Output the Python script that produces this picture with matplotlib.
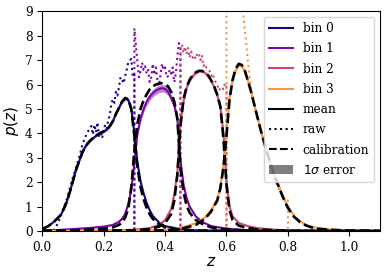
import matplotlib
matplotlib.use("Agg")
import matplotlib.pyplot as plt
from matplotlib.lines import Line2D
from matplotlib.patches import Patch
import numpy as np

plt.rcParams['font.family'] = ['DejaVu Serif']
plt.rcParams['mathtext.fontset'] = 'dejavusans'

# ---------------- data ----------------
bin_labels = ["bin 0", "bin 1", "bin 2", "bin 3"]
cmap_pos = [0.0, 0.25, 0.5, 0.75]

# bin 0
z0 = [0.0, 0.02, 0.04, 0.06,
      0.07, 0.08, 0.09, 0.10, 0.11, 0.12, 0.13, 0.14, 0.15, 0.16, 0.17, 0.18, 0.19, 0.20, 0.21, 0.22,
      0.23, 0.24, 0.25, 0.26, 0.27, 0.28, 0.29, 0.30, 0.31, 0.32, 0.33, 0.34, 0.35, 0.36,
      0.38, 0.40, 0.45, 0.50, 0.60, 0.80, 1.10]
mean0 = [0.08, 0.2, 0.4, 0.65,
         0.9, 1.2, 1.6, 2.05, 2.5, 2.85, 3.2, 3.45, 3.62, 3.75, 3.85, 3.95, 4.02, 4.08, 4.15, 4.3,
         4.5, 4.8, 5.05, 5.3, 5.42, 5.38, 5.0, 4.0, 2.8, 2.05, 1.55, 1.15, 0.85, 0.62,
         0.35, 0.2, 0.08, 0.03, 0.01, 0.0, 0.0]
cal0 = [0.08, 0.2, 0.4, 0.65,
        0.9, 1.2, 1.6, 2.05, 2.5, 2.85, 3.2, 3.45, 3.62, 3.75, 3.85, 3.95, 4.02, 4.08, 4.15, 4.3,
        4.5, 4.8, 5.05, 5.3, 5.45, 5.4, 5.0, 3.9, 2.6, 1.8, 1.3, 0.95, 0.68, 0.5,
        0.28, 0.15, 0.05, 0.02, 0.0, 0.0, 0.0]
err0 = [0.01, 0.01, 0.02, 0.02,
        0.03, 0.03, 0.04, 0.04, 0.05, 0.05, 0.05, 0.05, 0.05, 0.05, 0.05, 0.05, 0.05, 0.05, 0.05, 0.05,
        0.06, 0.06, 0.06, 0.06, 0.06, 0.06, 0.06, 0.06, 0.05, 0.04, 0.03, 0.03, 0.02, 0.02,
        0.01, 0.01, 0.0, 0.0, 0.0, 0.0, 0.0]

# bin 1
z1 = [0.0, 0.05, 0.10, 0.15, 0.20, 0.23, 0.25,
      0.26, 0.27, 0.28, 0.29, 0.30, 0.31, 0.32, 0.33, 0.34, 0.35, 0.36, 0.37, 0.38, 0.39, 0.40,
      0.41, 0.42, 0.43, 0.44, 0.45, 0.46, 0.47, 0.48,
      0.50, 0.52, 0.55, 0.60, 0.65, 0.70, 0.80, 1.10]
mean1 = [0.02, 0.04, 0.08, 0.12, 0.18, 0.25, 0.38,
         0.5, 0.7, 1.1, 1.7, 2.8, 4.0, 4.6, 5.0, 5.3, 5.5, 5.65, 5.75, 5.82, 5.85, 5.82,
         5.7, 5.45, 5.15, 4.6, 2.9, 1.9, 1.35, 1.0,
         0.6, 0.38, 0.2, 0.1, 0.05, 0.02, 0.01, 0.0]
cal1 = [0.0, 0.01, 0.03, 0.06, 0.1, 0.15, 0.25,
        0.35, 0.55, 0.9, 1.8, 3.3, 4.4, 5.0, 5.35, 5.6, 5.8, 5.92, 6.0, 6.04, 6.05, 6.02,
        5.92, 5.7, 5.3, 4.6, 2.6, 1.6, 1.05, 0.75,
        0.45, 0.3, 0.15, 0.06, 0.03, 0.01, 0.0, 0.0]
err1 = [0.0, 0.0, 0.01, 0.01, 0.02, 0.02, 0.03,
        0.03, 0.04, 0.06, 0.08, 0.1, 0.12, 0.13, 0.14, 0.15, 0.15, 0.15, 0.15, 0.15, 0.15, 0.15,
        0.15, 0.15, 0.14, 0.13, 0.12, 0.1, 0.08, 0.06,
        0.04, 0.03, 0.02, 0.01, 0.0, 0.0, 0.0, 0.0]

# bin 2
z2 = [0.0, 0.2, 0.3, 0.35, 0.38, 0.40, 0.42,
      0.43, 0.44, 0.45, 0.46, 0.47, 0.48, 0.49, 0.50, 0.51, 0.52, 0.53, 0.54, 0.55, 0.56, 0.57,
      0.58, 0.59, 0.60, 0.61, 0.62,
      0.64, 0.67, 0.70, 0.75, 0.80, 0.90, 1.10]
mean2 = [0.0, 0.02, 0.05, 0.12, 0.25, 0.45, 0.9,
         1.5, 2.4, 4.4, 5.3, 5.85, 6.15, 6.35, 6.48, 6.55, 6.55, 6.48, 6.35, 6.15, 5.9, 5.55,
         5.1, 4.0, 2.0, 1.0, 0.6,
         0.33, 0.2, 0.12, 0.06, 0.03, 0.01, 0.0]
cal2 = [0.0, 0.01, 0.03, 0.08, 0.18, 0.32, 0.7,
        1.25, 2.3, 4.3, 5.4, 5.9, 6.2, 6.38, 6.5, 6.56, 6.56, 6.5, 6.38, 6.18, 5.92, 5.58,
        5.1, 3.8, 1.9, 0.85, 0.45,
        0.22, 0.12, 0.07, 0.03, 0.01, 0.0, 0.0]
err2 = [0.0, 0.0, 0.0, 0.01, 0.01, 0.02, 0.03,
        0.04, 0.05, 0.06, 0.06, 0.06, 0.06, 0.06, 0.06, 0.06, 0.06, 0.06, 0.06, 0.06, 0.06, 0.06,
        0.06, 0.05, 0.04, 0.03, 0.02,
        0.01, 0.01, 0.0, 0.0, 0.0, 0.0, 0.0]

# bin 3
z3 = [0.0, 0.3, 0.4, 0.45, 0.50, 0.53, 0.55, 0.57,
      0.58, 0.59, 0.60, 0.61, 0.62, 0.63, 0.64, 0.65, 0.66, 0.67, 0.68, 0.69, 0.70, 0.71,
      0.72, 0.73, 0.74, 0.75, 0.76, 0.77, 0.78, 0.79, 0.80,
      0.82, 0.84, 0.86, 0.88, 0.90, 0.95, 1.00, 1.10]
mean3 = [0.0, 0.02, 0.05, 0.12, 0.32, 0.55, 0.85, 1.3,
         1.8, 2.7, 4.0, 5.5, 6.2, 6.6, 6.8, 6.75, 6.55, 6.15, 5.7, 5.2, 4.7, 4.2,
         3.75, 3.3, 2.9, 2.5, 2.15, 1.85, 1.55, 1.25, 1.0,
         0.62, 0.4, 0.24, 0.17, 0.11, 0.06, 0.02, 0.0]
cal3 = [0.0, 0.01, 0.03, 0.08, 0.25, 0.5, 0.8, 1.25,
        1.75, 2.6, 3.9, 5.4, 6.2, 6.65, 6.85, 6.8, 6.55, 6.15, 5.7, 5.2, 4.7, 4.2,
        3.75, 3.3, 2.9, 2.5, 2.15, 1.82, 1.5, 1.2, 0.95,
        0.58, 0.36, 0.22, 0.14, 0.09, 0.04, 0.02, 0.0]
err3 = [0.0, 0.0, 0.0, 0.01, 0.01, 0.02, 0.03, 0.04,
        0.05, 0.06, 0.07, 0.08, 0.08, 0.08, 0.08, 0.08, 0.08, 0.08, 0.08, 0.08, 0.07, 0.07,
        0.07, 0.06, 0.06, 0.05, 0.05, 0.04, 0.04, 0.03, 0.03,
        0.02, 0.02, 0.01, 0.01, 0.0, 0.0, 0.0, 0.0]

# raw (histogram-like) curves
zr0 = [0.0, 0.04,
       0.05, 0.06, 0.07, 0.08, 0.09, 0.10, 0.11, 0.12, 0.13, 0.14, 0.15,
       0.155, 0.16, 0.165, 0.17, 0.175, 0.18, 0.185, 0.19, 0.195, 0.20, 0.205, 0.21, 0.215, 0.22,
       0.225, 0.23, 0.235, 0.24, 0.245, 0.25, 0.255, 0.26, 0.265, 0.27, 0.275, 0.28, 0.285, 0.29,
       0.295, 0.30, 0.30, 1.1]
raw0 = [0.0, 0.05,
        0.3, 0.6, 0.95, 1.3, 1.75, 2.2, 2.6, 3.0, 3.5, 3.85, 4.1,
        4.2, 4.3, 3.95, 4.35, 4.05, 4.45, 3.85, 4.1, 3.8, 4.15, 4.35, 4.2, 4.55, 4.75,
        5.2, 5.4, 5.25, 5.7, 5.55, 5.9, 6.3, 6.2, 6.05, 6.35, 6.6, 6.9, 7.0, 7.05,
        6.3, 6.4, 0.0, 0.0]
zr1 = [0.0, 0.30, 0.30,
       0.305, 0.31, 0.315, 0.32, 0.325, 0.33, 0.335, 0.34, 0.345, 0.35, 0.355, 0.36, 0.365, 0.37,
       0.375, 0.38, 0.385, 0.39, 0.395, 0.40, 0.405, 0.41, 0.415, 0.42, 0.425, 0.43, 0.435, 0.44,
       0.445, 0.45, 0.45, 1.1]
raw1 = [0.0, 0.0, 8.3,
        7.6, 6.9, 6.3, 6.55, 6.9, 6.6, 6.75, 6.45, 6.6, 6.1, 6.3, 6.85, 6.4, 6.7,
        6.2, 5.95, 6.4, 6.85, 6.6, 6.7, 6.3, 6.35, 6.6, 6.45, 6.7, 6.1, 6.45, 7.15,
        7.7, 7.5, 0.0, 0.0]
zr2 = [0.0, 0.45, 0.45,
       0.455, 0.46, 0.465, 0.47, 0.475, 0.48, 0.485, 0.49, 0.495, 0.50, 0.505, 0.51, 0.515, 0.52,
       0.525, 0.53, 0.535, 0.54, 0.545, 0.55, 0.555, 0.56, 0.565, 0.57, 0.575, 0.58, 0.585, 0.59,
       0.595, 0.60, 0.60, 1.1]
raw2 = [0.0, 0.0, 7.5,
        7.65, 7.3, 7.55, 7.25, 7.5, 7.1, 7.35, 7.1, 7.2, 7.05, 7.3, 7.25, 7.0, 7.2,
        6.75, 6.85, 6.65, 6.6, 6.55, 6.35, 6.45, 6.2, 6.1, 6.0, 5.75, 5.85, 5.9, 5.8,
        6.05, 5.9, 0.0, 0.0]
zr3 = [0.0, 0.60, 0.60,
       0.61, 0.62, 0.63, 0.64, 0.65,
       0.655, 0.66, 0.665,
       0.67, 0.68, 0.69, 0.70, 0.71, 0.72, 0.73, 0.74, 0.75, 0.76, 0.77, 0.78, 0.79, 0.80,
       0.80, 1.1]
raw3 = [0.0, 0.0, 11.0,
        11.5, 12.0, 11.5, 10.5, 9.6,
        8.8, 8.2, 7.6,
        6.9, 5.9, 5.2, 4.7, 4.2, 3.7, 3.2, 2.75, 2.3, 2.0, 1.72, 1.55, 1.3, 1.3,
        0.0, 0.0]

x_ticks = [0.0, 0.2, 0.4, 0.6, 0.8, 1.0]
y_ticks = [0, 1, 2, 3, 4, 5, 6, 7, 8, 9]

zs = [z0, z1, z2, z3]
means = [mean0, mean1, mean2, mean3]
cals = [cal0, cal1, cal2, cal3]
errs = [err0, err1, err2, err3]
zrs = [zr0, zr1, zr2, zr3]
raws = [raw0, raw1, raw2, raw3]

# ---------------- plot ----------------
fig = plt.figure(figsize=(3.91, 2.76), dpi=100)
ax = fig.add_axes([0.108, 0.163, 0.864, 0.796])

cmap = plt.get_cmap("plasma")
colors = [cmap(c) for c in cmap_pos]

for i in range(4):
    z = np.array(zs[i]); m = np.array(means[i]); e = np.array(errs[i])
    ax.fill_between(z, m - e, m + e, color=colors[i], alpha=0.5, lw=0, zorder=1)
for i in range(4):
    ax.plot(zrs[i], raws[i], ls=':', color=colors[i], lw=1.5, zorder=2)
for i in range(4):
    ax.plot(zs[i], means[i], ls='-', color=colors[i], lw=1.5, zorder=3)
for i in range(4):
    ax.plot(zs[i], cals[i], ls='--', color='black', lw=1.9, zorder=4)

ax.set_xlim(0, 1.1)
ax.set_ylim(0, 9)
ax.set_xticks(x_ticks)
ax.set_yticks(y_ticks)
ax.tick_params(labelsize=8.7)
ax.set_xlabel('$z$', fontsize=11, labelpad=1)
ax.set_ylabel('$p(z)$', fontsize=11, labelpad=3)

handles = [Line2D([], [], color=colors[i], lw=1.5) for i in range(4)]
handles += [Line2D([], [], color='black', ls='-', lw=1.5),
            Line2D([], [], color='black', ls=':', lw=1.5),
            Line2D([], [], color='black', ls='--', lw=1.5),
            Patch(facecolor='black', alpha=0.5)]
labels = bin_labels + ['mean', 'raw', 'calibration', r'$1\sigma$ error']
ax.legend(handles, labels, loc='upper right', fontsize=8.7, labelspacing=0.6)

fig.savefig("out.png", dpi=100)
